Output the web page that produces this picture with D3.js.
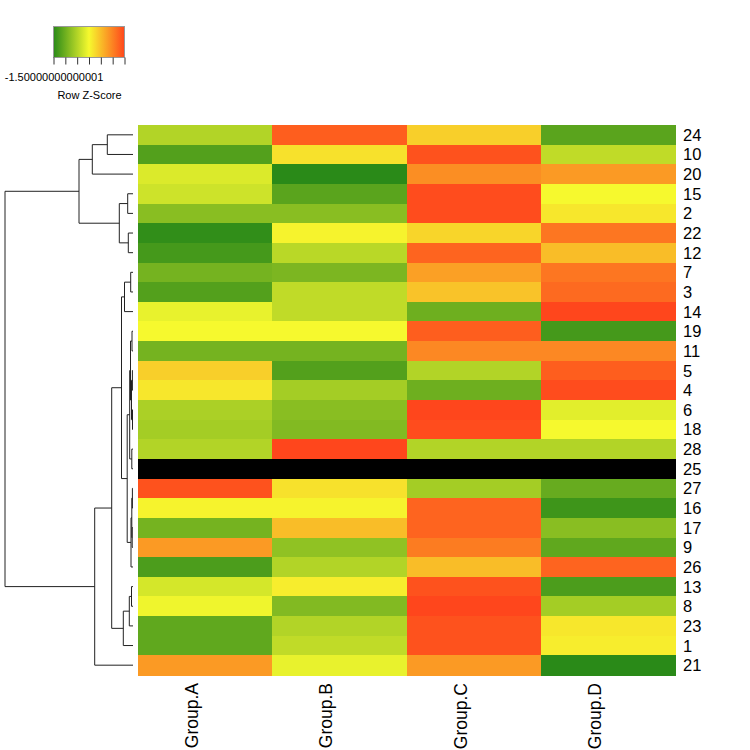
<!doctype html>
<html lang="en">
  <head>
    <meta charset="utf-8">
    <title>Row Z-Score heatmap</title>
    <script src="https://d3js.org/d3.v7.min.js"></script>
    <style>
      body { margin: 0; background: #fff; }
      text { font-family: "Liberation Sans", Arial, sans-serif; fill: #000; }
    </style>
  </head>
  <body>
    <div id="container"></div>
  </body>
  <script>
    // rows in dendrogram order, top to bottom
    const rowLabels = ["24","10","20","15","2","22","12","7","3","14","19","11","5","4",
                       "6","18","28","25","27","16","17","9","26","13","8","23","1","21"]
    const colLabels = ["Group.A","Group.B","Group.C","Group.D"]

    // row z-scores (null = NA, drawn black)
    const zGroupA = [-0.5,-1.2,-0.2,-0.3,-0.8,-1.45,-1.3,-0.95,-1.2,-0.1,0.0,-0.95,0.35,0.15,
                     -0.55,-0.6,-0.5,null,1.4,0.05,-0.95,0.8,-1.25,-0.25,-0.05,-1.1,-1.1,0.8]
    const zGroupB = [1.3,0.2,-1.5,-1.15,-0.8,0.05,-0.45,-0.9,-0.4,-0.4,0.0,-0.95,-1.2,-0.6,
                     -0.8,-0.85,1.5,null,0.2,0.05,0.5,-0.75,-0.5,0.1,-0.85,-0.5,-0.4,-0.1]
    const zGroupC = [0.35,1.4,0.9,1.45,1.45,0.3,1.25,0.75,0.45,-1.0,1.3,0.95,-0.5,-1.0,
                     1.5,1.45,-0.5,null,-0.6,1.25,1.25,1.05,0.5,1.4,1.5,1.4,1.4,0.8]
    const zGroupD = [-1.15,-0.4,0.8,0.0,0.15,1.1,0.5,1.1,1.2,1.5,-1.3,0.95,1.3,1.45,
                     -0.15,0.0,-0.5,null,-1.05,-1.35,-0.8,-1.1,1.25,-1.25,-0.6,0.15,0.1,-1.5]

    // row dendrogram: leaves are labels, numbers point to earlier merges
    const dendroMerges = [
      ["24","10"], [0,"20"], ["15","2"], ["22","12"], [2,3], [1,4],
      ["7","3"], [6,"14"],
      ["19","11"], ["5","4"], ["6","18"], [9,10], [8,11], ["28","25"], [12,13],
      ["27","16"], ["17","9"], [15,16], [17,"26"], [14,18], [7,19],
      ["13","8"], [21,"23"], [22,"1"], [20,23], [24,"21"], [5,25]
    ]
    const dendroHeights = [2.57,4.07,0.53,0.47,1.37,5.4,0.23,0.85,0.1,0.06,0.05,0.15,0.25,0.12,
                           0.33,0.06,0.08,0.12,0.2,0.58,1.15,0.15,0.37,0.97,2.13,3.83,12.8]

    const keyDomain = [-1.5, 1.5]
    const keyTicks = [-1.5,-1,-0.5,0,0.5,1,1.5]
    const keyTickLabels = ["-1.50000000000001","","","","","",""]

    const width = 750
    const height = 750

    const svg = d3.select("#container")
      .append("svg")
        .attr("width", width)
        .attr("height", height)

    const color = d3.scaleLinear()
      .domain([-1.5, 0, 1.5])
      .range(["#2A8A18", "#F6F92E", "#FF461C"])
      .clamp(true)

    const x = d3.scaleBand().domain(colLabels).range([137.5, 675.5])
    const y = d3.scaleBand().domain(rowLabels).range([125, 675])

    const columns = [zGroupA, zGroupB, zGroupC, zGroupD]
    const cells = []
    rowLabels.forEach((r, i) => {
      colLabels.forEach((c, j) => {
        cells.push({row: r, col: c, z: columns[j][i]})
      })
    })

    // heatmap cells
    svg.append("g")
      .selectAll("rect")
      .data(cells)
      .join("rect")
        .attr("x", d => x(d.col))
        .attr("y", d => y(d.row))
        .attr("width", x.bandwidth() + 0.5)
        .attr("height", y.bandwidth() + 0.5)
        .attr("fill", d => d.z === null ? "#000" : color(d.z))
        .attr("shape-rendering", "crispEdges")

    // row labels
    svg.append("g")
      .selectAll("text")
      .data(rowLabels)
      .join("text")
        .attr("x", 683)
        .attr("y", d => y(d) + y.bandwidth() / 2 + 6)
        .attr("font-size", 16.5)
        .text(d => d)

    // column labels, rotated
    svg.append("g")
      .selectAll("text")
      .data(colLabels)
      .join("text")
        .attr("transform", d => `translate(${x(d) + x.bandwidth() / 2 - 7},683) rotate(-90)`)
        .attr("text-anchor", "end")
        .attr("font-size", 17.5)
        .text(d => d)

    // row dendrogram
    const hx = d3.scaleLinear().domain([0, d3.max(dendroHeights)]).range([133, 5])
    const nodes = []
    function nodePos(ref) {
      if (typeof ref === "string") return {x: hx(0), y: y(ref) + y.bandwidth() / 2}
      return nodes[ref]
    }
    const dendroPaths = dendroMerges.map((m, i) => {
      const a = nodePos(m[0])
      const b = nodePos(m[1])
      const nx = hx(dendroHeights[i])
      nodes.push({x: nx, y: (a.y + b.y) / 2})
      return `M${a.x},${a.y}H${nx}V${b.y}H${b.x}`
    })
    svg.append("g")
      .selectAll("path")
      .data(dendroPaths)
      .join("path")
        .attr("d", d => d)
        .attr("fill", "none")
        .attr("stroke", "#222")
        .attr("stroke-width", 1)

    // colour key
    const keyX = d3.scaleLinear().domain(keyDomain).range([53.5, 124.5])
    const grad = svg.append("defs").append("linearGradient")
      .attr("id", "keyGrad")
    grad.selectAll("stop")
      .data(keyTicks)
      .join("stop")
        .attr("offset", d => (d - keyDomain[0]) / (keyDomain[1] - keyDomain[0]))
        .attr("stop-color", d => color(d))
    svg.append("rect")
      .attr("x", keyX(keyDomain[0]))
      .attr("y", 26.5)
      .attr("width", keyX(keyDomain[1]) - keyX(keyDomain[0]))
      .attr("height", 31)
      .attr("fill", "url(#keyGrad)")
      .attr("stroke", "#999")
      .attr("stroke-width", 1)

    const keyAxis = svg.append("g")
      .attr("transform", "translate(0,57.5)")
      .call(d3.axisBottom(keyX)
        .tickValues(keyTicks)
        .tickSize(7)
        .tickFormat((d, i) => keyTickLabels[i]))
    keyAxis.select(".domain").remove()
    keyAxis.selectAll("line").attr("stroke", "#333")
    keyAxis.selectAll("text")
      .attr("font-size", 11)
      .attr("font-family", "Liberation Sans, Arial, sans-serif")
      .attr("fill", "#000")
      .attr("y", 16)

    svg.append("text")
      .attr("x", 89.5)
      .attr("y", 99)
      .attr("text-anchor", "middle")
      .attr("font-size", 11)
      .text("Row Z-Score")
  </script>
</html>
